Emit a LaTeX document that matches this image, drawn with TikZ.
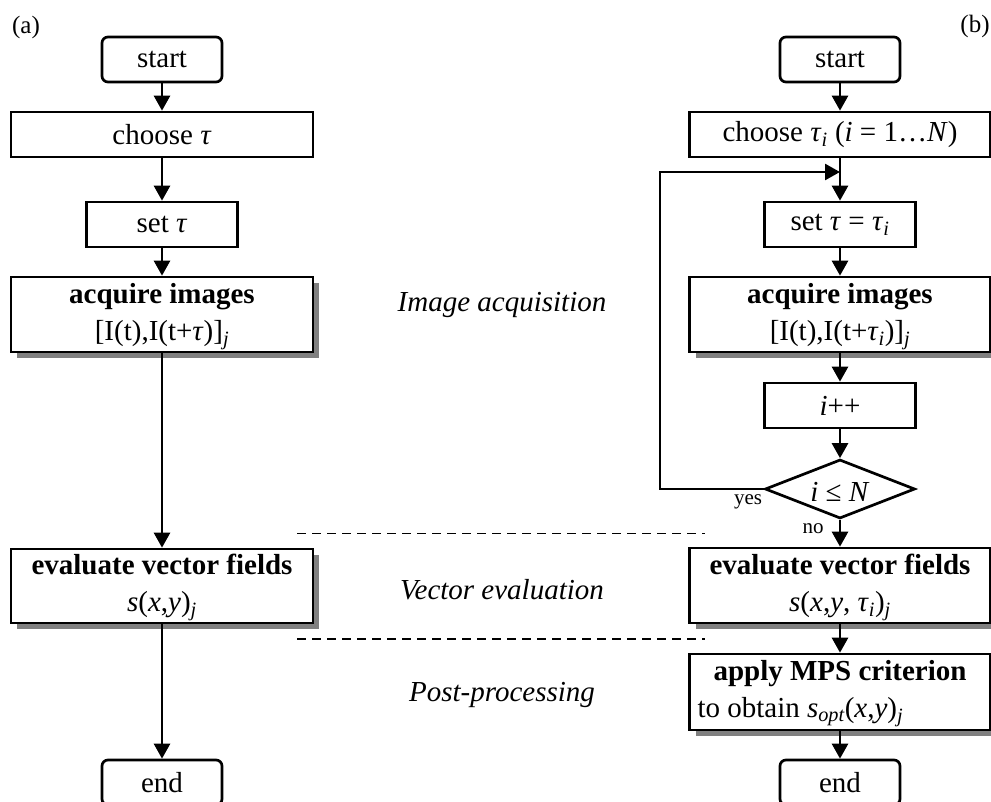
\documentclass[tikz,border=0pt]{standalone}
\usepackage{fontspec}
\setmainfont{Liberation Serif}
\usetikzlibrary{arrows.meta,shapes.geometric,shadows}
\newcommand\lsub[1]{\textsubscript{\itshape #1}}
\begin{document}
\begin{tikzpicture}[x=1pt,y=-1pt,
  every node/.style={font=\fontsize{29}{37}\selectfont},
  box/.style={draw, line width=2.7pt, fill=white, inner sep=0pt, align=center},
  rbox/.style={box, rounded corners=6pt, minimum width=120pt, minimum height=45pt},
  shbox/.style={box, drop shadow={shadow xshift=6pt, shadow yshift=-6pt, fill=black!50, opacity=1}},
  arr/.style={line width=2.7pt, -{Triangle[length=15pt,width=16pt]}},
  sep/.style={line width=1.4pt, dash pattern=on 9pt off 6pt},
  stage/.style={font=\fontsize{29}{36}\selectfont\itshape},
  tag/.style={font=\fontsize{25}{30}\selectfont},
  small/.style={font=\fontsize{21}{25}\selectfont}
]
\useasboundingbox (0,0) rectangle (991,801);

% labels
\node[tag] (ta) at (26,27) {(a)};
\node[tag] (tb) at (975,26) {(b)};

% left column
\node[rbox] (ls) at (162,59.5) {start};
\node[box, minimum width=302pt, minimum height=45pt] (lc) at (162,134.5) {choose \textit{τ}};
\node[box, minimum width=151pt, minimum height=45pt] (lset) at (162,224.5) {set \textit{τ}};
\node[shbox, minimum width=302pt, minimum height=75pt] (lacq) at (162,314.5)
  {\strut{\bfseries acquire images}\\\strut{}[I(t),I(t+\textit{τ})]\lsub{j}};
\node[shbox, minimum width=302pt, minimum height=74pt] (leval) at (162,586)
  {\strut{\bfseries evaluate vector fields}\\\strut\textit{s}(\textit{x},\textit{y})\lsub{j}};
\node[rbox] (lend) at (162,782.5) {end};

\draw[arr] (ls) -- (lc);
\draw[arr] (lc) -- (lset);
\draw[arr] (lset) -- (lacq);
\draw[arr] (lacq) -- (leval);
\draw[arr] (leval) -- (lend);

% middle stage labels
\node[stage] (s1) at (502,305) {Image acquisition};
\node[stage] (s2) at (502,590) {Vector evaluation};
\node[stage] (s3) at (502,695) {Post-processing};

\coordinate (d1a) at (297,533.5);
\coordinate (d1b) at (705,533.5);
\coordinate (d2a) at (297,639);
\coordinate (d2b) at (705,639);
\draw[sep] (d1a) -- (d1b);
\draw[sep] (d2a) -- (d2b);

% right column
\node[rbox] (rs) at (840,59.5) {start};
\node[box, minimum width=301pt, minimum height=45pt] (rc) at (840,134.5)
  {choose \textit{τ}\lsub{i} (\textit{i} = 1…\textit{N})};
\node[box, minimum width=151pt, minimum height=45pt] (rset) at (840,224.5)
  {set \textit{τ} = \textit{τ}\lsub{i}};
\node[shbox, minimum width=301pt, minimum height=75pt] (racq) at (840,314.5)
  {\strut{\bfseries acquire images}\\\strut{}[I(t),I(t+\textit{τ}\lsub{i})]\lsub{j}};
\node[box, minimum width=151pt, minimum height=45pt] (rinc) at (840,405.5) {\textit{i}++};
\node[draw, diamond, aspect=2.54, line width=2.7pt, inner sep=0pt,
  text height=25pt, text depth=0pt,
  minimum width=150pt, minimum height=59pt] (rdia) at (840,489) {\textit{i} ≤ \textit{N}};
\node[shbox, minimum width=301pt, minimum height=75pt] (reval) at (840,585.5)
  {\strut{\bfseries evaluate vector fields}\\\strut\textit{s}(\textit{x},\textit{y}, \textit{τ}\lsub{i})\lsub{j}};
\node[shbox, minimum width=301pt, minimum height=76pt] (rapp) at (840,692)
  {\strut{\bfseries apply MPS criterion}\\\makebox[285pt][l]{\strut to obtain \textit{s}\lsub{opt}(\textit{x},\textit{y})\lsub{j}}};
\node[rbox] (rend) at (840,782.5) {end};

\draw[arr] (rs) -- (rc);
\draw[arr] (rc) -- (rset);
\draw[arr] (rset) -- (racq);
\draw[arr] (racq) -- (rinc);
\draw[arr] (rinc) -- (rdia);
\draw[arr] (rdia) -- (reval);
\draw[arr] (reval) -- (rapp);
\draw[arr] (rapp) -- (rend);

\coordinate (ly) at (660,172);
\coordinate (lj) at (840,172);
\draw[arr] (rdia.west) -- (rdia.west -| ly) -- (ly) -- (lj);

\node[small] (yes) at (748,502) {yes};
\node[small] (no) at (813,529) {no};
\end{tikzpicture}
\end{document}
